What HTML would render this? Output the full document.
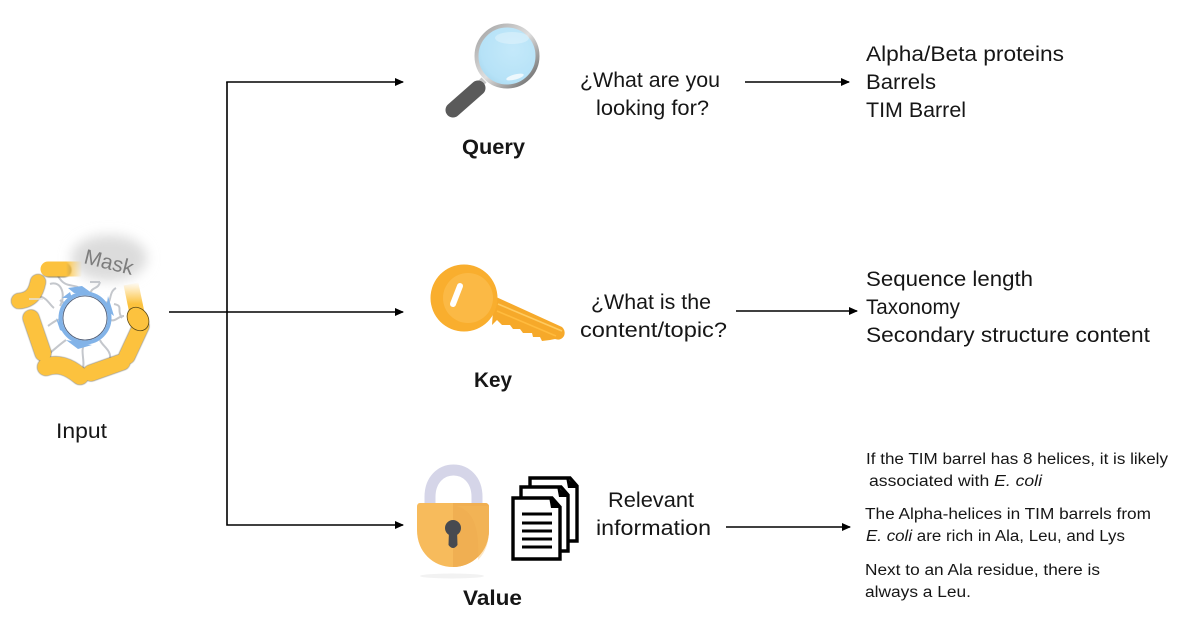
<!DOCTYPE html>
<html><head><meta charset="utf-8"><style>
html,body{margin:0;padding:0;background:#fff;width:1200px;height:628px;overflow:hidden}
svg{display:block}
text{font-family:"Liberation Sans",sans-serif;fill:#161616}
.t{font-size:21.5px}
.b{font-size:21px;font-weight:bold}
.s{font-size:15.5px}
</style></head><body>
<svg width="1200" height="628" viewBox="0 0 1200 628" xmlns="http://www.w3.org/2000/svg">
<defs>
<marker id="a" markerWidth="10" markerHeight="8" refX="8" refY="4" orient="auto" markerUnits="userSpaceOnUse"><path d="M0 0L9 4L0 8z" fill="#000"/></marker>
<filter id="bl" x="-50%" y="-50%" width="200%" height="200%"><feGaussianBlur stdDeviation="6"/></filter>
<filter id="sh" x="-20%" y="-20%" width="140%" height="140%"><feGaussianBlur stdDeviation="0.6"/></filter>
<linearGradient id="f1" x1="42" y1="0" x2="82" y2="0" gradientUnits="userSpaceOnUse"><stop offset="0.6" stop-color="#fcc23e"/><stop offset="1" stop-color="#fcc23e" stop-opacity="0"/></linearGradient>
<linearGradient id="f2" x1="0" y1="282" x2="0" y2="304" gradientUnits="userSpaceOnUse"><stop offset="0" stop-color="#fcc23e" stop-opacity="0"/><stop offset="1" stop-color="#fcc23e"/></linearGradient>
<radialGradient id="lens" cx="0.6" cy="0.4" r="0.65"><stop offset="0" stop-color="#c4e9fa"/><stop offset="0.8" stop-color="#b6e2f7"/><stop offset="1" stop-color="#a9d9f0"/></radialGradient>
<linearGradient id="rim" x1="0" y1="0" x2="1" y2="1"><stop offset="0" stop-color="#a0a0a0"/><stop offset="0.5" stop-color="#dedede"/><stop offset="1" stop-color="#5c5c5c"/></linearGradient>
</defs>

<!-- connectors -->
<g stroke="#000" stroke-width="1.6" fill="none">
<path d="M227 82V525H403" marker-end="url(#a)"/>
<path d="M226.2 82H403" marker-end="url(#a)"/>
<path d="M169 312H403" marker-end="url(#a)"/>
<path d="M745 82H849" marker-end="url(#a)"/>
<path d="M736 311H857" marker-end="url(#a)"/>
<path d="M726 527H850" marker-end="url(#a)"/>
</g>

<!-- protein -->
<ellipse cx="109" cy="258" rx="38" ry="23" fill="#dcdcdc" filter="url(#bl)"/>
<g fill="none" stroke="#c4c7cc" stroke-width="2">
<path d="M50 284C62 280 66 296 60 306M58 276C66 290 74 282 82 290M100 282C98 290 92 286 90 294M116 288C108 292 112 305 106 302M124 316C118 316 116 322 110 320M48 326C54 322 60 316 64 322M46 356C54 350 60 344 66 340M82 372C86 362 80 352 84 344M110 360C112 350 102 346 100 340M60 300C66 306 68 300 70 304M30 298C46 292 48 304 54 308M90 282H100M122 318C116 310 124 306 114 304"/>
</g>
<circle cx="85" cy="318" r="24.5" fill="#fff" stroke="#82b3e8" stroke-width="4"/>
<circle cx="85" cy="318" r="22" fill="none" stroke="#4a5872" stroke-width="0.8"/>
<path d="M68 288L82 286L96 296L74 293zM108 296L114 316L106 310zM56 318L68 334L60 330zM66 340L92 345L78 349zM62 298L70 292L72 298z" fill="#82b3e8"/>
<g fill="none" stroke-linecap="round">
<g stroke="#3d300c" opacity=".6" filter="url(#sh)">
<path d="M31 318L43 353" stroke-width="17"/><path d="M46 367C58 363 68 366 80 376" stroke-width="18"/><path d="M91 373L122 362" stroke-width="17"/><path d="M127 356L141 326" stroke-width="17"/><path d="M19 301C32 300 36 292 38 282" stroke-width="16"/>
<path d="M49 270H64" stroke-width="15"/>
</g>
<path d="M48 269H80" stroke="url(#f1)" stroke-width="15"/>
<path d="M19 301C32 300 36 292 38 282" stroke="#fcc23e" stroke-width="15"/>
<path d="M31 318L43 353" stroke="#fcc23e" stroke-width="16"/>
<path d="M127 356L141 326" stroke="#fcc23e" stroke-width="16"/>
<path d="M91 373L122 362" stroke="#fcc23e" stroke-width="16"/>
<path d="M46 367C58 363 68 366 80 376" stroke="#fcc23e" stroke-width="17"/>
<path d="M131 284L138 318" stroke="url(#f2)" stroke-width="15" stroke-linecap="butt"/>
<ellipse cx="138" cy="319" rx="10" ry="12.5" transform="rotate(-35 138 319)" fill="#fcc23e" stroke="#5c4a18" stroke-width="0.8"/>
</g>
<path d="M29 299L43 299" stroke="#e4e4e4" stroke-width="1.4"/>
<text x="83" y="263" transform="rotate(14 83 263)" style="font-size:21px;fill:#7d7d7d" textLength="50" lengthAdjust="spacingAndGlyphs">Mask</text>
<text class="t" x="56" y="438" textLength="51" lengthAdjust="spacingAndGlyphs">Input</text>

<!-- magnifier -->
<path d="M477 87L484 80" stroke="#c4c4c4" stroke-width="7"/>
<path d="M453 110L478 88" stroke="#5a5a5a" stroke-width="15" stroke-linecap="round"/>
<circle cx="507" cy="56" r="30.5" fill="url(#lens)" stroke="url(#rim)" stroke-width="4"/>
<ellipse cx="512" cy="38" rx="17" ry="6" fill="#fff" opacity=".3"/>
<ellipse cx="515" cy="77" rx="9" ry="2.6" transform="rotate(-15 515 77)" fill="#fff" opacity=".75"/>
<text class="b" x="462" y="154" textLength="63" lengthAdjust="spacingAndGlyphs">Query</text>

<!-- key -->
<path d="M494 296L562 327Q566 331 564 336Q561 341 555 339L550 340L542 341L540 337L533 337L532 333L523 333L520 329L513 329L510 325L502 325L497 320L492 325z" fill="#f6a92a"/>
<path d="M498 304L562 331" stroke="#ffcb60" stroke-width="1.6"/>
<path d="M497 311L556 336" stroke="#ffbb3e" stroke-width="1.6"/>
<circle cx="464" cy="298" r="33.5" fill="#f9ae2e"/>
<circle cx="468" cy="298" r="25" fill="#fbb945"/>
<path d="M460 286L453 304" stroke="#fff" stroke-width="6" stroke-linecap="round"/>
<text class="b" x="474" y="387" textLength="38" lengthAdjust="spacingAndGlyphs">Key</text>

<!-- lock -->
<ellipse cx="452" cy="576" rx="32" ry="2.5" fill="#f2f2f2"/>
<path d="M430 506V497C430 461 477 461 477 497V506" fill="none" stroke="#d5d5e8" stroke-width="11"/>
<path d="M420 503H485Q489 503 489 507V530C489 552 472 567 453 567C433 567 417 552 417 530V507Q417 503 420 503z" fill="#f7bb5c"/>
<path d="M453 503H485Q489 503 489 507V530C489 552 472 567 453 567z" fill="#f0af52"/>
<path d="M456 506C472 510 480 525 478 560C486 552 489 542 489 530V506z" fill="#f7bb5c" opacity=".35"/>
<circle cx="453" cy="528" r="8" fill="#474a50"/>
<path d="M449 530H457L457.5 545Q453 551 448.5 545z" fill="#474a50"/>
<text class="b" x="463" y="605" textLength="59" lengthAdjust="spacingAndGlyphs">Value</text>

<!-- documents -->
<g fill="#fff" stroke="#000" stroke-width="3.4">
<path d="M530 478H570L577 486V541H530z"/>
<path d="M521 487H561L568 495V551H521z"/>
<path d="M513 498H552L560 507V559H513z"/>
</g>
<path d="M566 477L578 488L568 488zM557 486L569 497L559 497zM549 497L561 508L551 508z" fill="#000"/>
<g stroke="#000" stroke-width="3">
<path d="M522 514H552M522 523H552M522 531H552M522 539H552M522 547H552"/>
</g>

<!-- middle text -->
<text class="t" x="580" y="87" textLength="140" lengthAdjust="spacingAndGlyphs">¿What are you</text>
<text class="t" x="596" y="115" textLength="113" lengthAdjust="spacingAndGlyphs">looking for?</text>
<text class="t" x="591" y="309" textLength="120" lengthAdjust="spacingAndGlyphs">¿What is the</text>
<text class="t" x="580" y="337" textLength="147" lengthAdjust="spacingAndGlyphs">content/topic?</text>
<text class="t" x="608" y="507" textLength="86" lengthAdjust="spacingAndGlyphs">Relevant</text>
<text class="t" x="596" y="535" textLength="115" lengthAdjust="spacingAndGlyphs">information</text>

<!-- right text -->
<text class="t" x="866" y="61" textLength="198" lengthAdjust="spacingAndGlyphs">Alpha/Beta proteins</text>
<text class="t" x="866" y="89" textLength="70" lengthAdjust="spacingAndGlyphs">Barrels</text>
<text class="t" x="866" y="117" textLength="100" lengthAdjust="spacingAndGlyphs">TIM Barrel</text>
<text class="t" x="866" y="286" textLength="167" lengthAdjust="spacingAndGlyphs">Sequence length</text>
<text class="t" x="866" y="314" textLength="94" lengthAdjust="spacingAndGlyphs">Taxonomy</text>
<text class="t" x="866" y="342" textLength="284" lengthAdjust="spacingAndGlyphs">Secondary structure content</text>

<text class="s" x="866" y="464" textLength="302" lengthAdjust="spacingAndGlyphs">If the TIM barrel has 8 helices, it is likely</text>
<text class="s" x="869" y="486" textLength="173" lengthAdjust="spacingAndGlyphs">associated with <tspan font-style="italic">E. coli</tspan></text>
<text class="s" x="865" y="519" textLength="286" lengthAdjust="spacingAndGlyphs">The Alpha-helices in TIM barrels from</text>
<text class="s" x="866" y="541" textLength="259" lengthAdjust="spacingAndGlyphs"><tspan font-style="italic">E. coli</tspan> are rich in Ala, Leu, and Lys</text>
<text class="s" x="865" y="575" textLength="235" lengthAdjust="spacingAndGlyphs">Next to an Ala residue, there is</text>
<text class="s" x="865" y="597" textLength="106" lengthAdjust="spacingAndGlyphs">always a Leu.</text>
</svg>
</body></html>
